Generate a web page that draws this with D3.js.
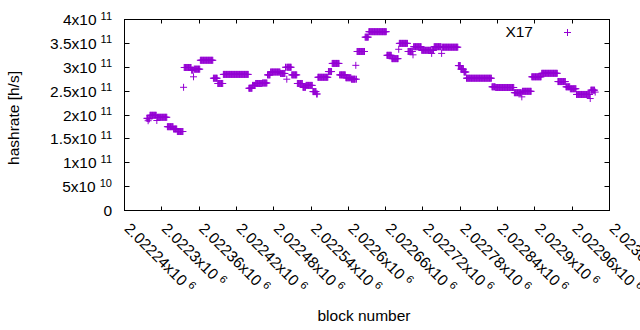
<!DOCTYPE html>
<html>
<head>
<meta charset="utf-8">
<script src="https://cdn.jsdelivr.net/npm/d3@7"></script>
<style>
  body { margin: 0; background: #fff; }
  svg text { font-family: "Liberation Sans", Arial, sans-serif; fill: #000; }
</style>
</head>
<body>
<div id="chart"></div>
<script>
// runs of blocks with the same hashrate (start block, end block, h/s)
const runStart = [2022276, 2022278, 2022279, 2022281, 2022292, 2022293, 2022309, 2022319, 2022325, 2022335,
  2022336, 2022348, 2022351, 2022352, 2022362, 2022383, 2022390, 2022399, 2022440, 2022446,
  2022451, 2022462, 2022470, 2022475, 2022491, 2022499, 2022501, 2022502, 2022509, 2022518,
  2022527, 2022532, 2022543, 2022549, 2022551, 2022568, 2022574, 2022586, 2022596, 2022605,
  2022612, 2022613, 2022614, 2022627, 2022633, 2022662, 2022670, 2022681, 2022682, 2022696,
  2022704, 2022705, 2022718, 2022734, 2022735, 2022738, 2022750, 2022751, 2022777, 2022781,
  2022786, 2022790, 2022831, 2022837, 2022867, 2022879, 2022880, 2022895, 2022911, 2022937,
  2022950, 2022957, 2022967, 2022989, 2022990, 2022997];
const runEnd = [2022277, 2022278, 2022280, 2022291, 2022292, 2022308, 2022318, 2022324, 2022334, 2022335,
  2022347, 2022350, 2022351, 2022361, 2022382, 2022389, 2022398, 2022439, 2022445, 2022450,
  2022461, 2022469, 2022474, 2022490, 2022498, 2022500, 2022501, 2022508, 2022517, 2022526,
  2022531, 2022542, 2022548, 2022550, 2022567, 2022573, 2022585, 2022595, 2022604, 2022611,
  2022612, 2022613, 2022626, 2022632, 2022661, 2022669, 2022680, 2022681, 2022695, 2022703,
  2022704, 2022717, 2022733, 2022734, 2022737, 2022749, 2022750, 2022776, 2022780, 2022785,
  2022789, 2022830, 2022836, 2022866, 2022878, 2022879, 2022894, 2022910, 2022936, 2022949,
  2022956, 2022966, 2022988, 2022989, 2022996, 2022997];
const runRate = [1.93e11, 1.88e11, 1.92e11, 1.994e11, 1.885e11, 1.952e11, 1.755e11, 1.707e11, 1.654e11, 2.58e11,
  2.995e11, 2.94e11, 2.80e11, 2.96e11, 3.146e11, 2.77e11, 2.66e11, 2.85e11, 2.56e11, 2.62e11,
  2.66e11, 2.67e11, 2.84e11, 2.90e11, 2.87e11, 3.0e11, 2.75e11, 3.0e11, 2.84e11, 2.66e11,
  2.58e11, 2.62e11, 2.49e11, 2.44e11, 2.79e11, 2.91e11, 3.08e11, 2.84e11, 2.78e11, 2.75e11,
  3.04e11, 2.75e11, 3.33e11, 3.63e11, 3.745e11, 3.25e11, 3.18e11, 3.376e11, 3.50e11, 3.33e11,
  3.26e11, 3.43e11, 3.355e11, 3.29e11, 3.355e11, 3.43e11, 3.29e11, 3.42e11, 3.035e11, 2.96e11,
  2.90e11, 2.77e11, 2.59e11, 2.576e11, 2.467e11, 2.38e11, 2.496e11, 2.80e11, 2.873e11, 2.70e11,
  2.59e11, 2.55e11, 2.43e11, 2.345e11, 2.52e11, 2.48e11];

const xTicks = [2022240, 2022300, 2022360, 2022420, 2022480, 2022540, 2022600,
  2022660, 2022720, 2022780, 2022840, 2022900, 2022960, 2023020];
const xTickLabels = ["2.02224x10^6", "2.0223x10^6", "2.02236x10^6", "2.02242x10^6", "2.02248x10^6",
  "2.02254x10^6", "2.0226x10^6", "2.02266x10^6", "2.02272x10^6", "2.02278x10^6",
  "2.02284x10^6", "2.0229x10^6", "2.02296x10^6", "2.0230x10^6"];
const yTicks = [0, 5e10, 1e11, 1.5e11, 2e11, 2.5e11, 3e11, 3.5e11, 4e11];
const yTickLabels = ["0", "5x10^10", "1x10^11", "1.5x10^11", "2x10^11", "2.5x10^11",
  "3x10^11", "3.5x10^11", "4x10^11"];

const seriesName = "X17";
const color = "#9400d3";

let width = 640, height = 330;
let margin = { left: 124.5, right: 30.5, top: 19.5, bottom: 119.5 };
const fontSize = 15.5;
const supSize = 11;

let svg = d3.select("#chart").append("svg")
  .attr("width", width)
  .attr("height", height);

let x = d3.scaleLinear()
  .domain([2022240, 2023020])
  .range([margin.left, width - margin.right]);
let y = d3.scaleLinear()
  .domain([0, 4e11])
  .range([height - margin.bottom, margin.top]);

// write "a^b" as text with a superscript
let sup_text = (sel, label) => {
  let parts = label.split("^");
  sel.text(null);
  sel.append("tspan").text(parts[0]);
  if (parts.length > 1) {
    sel.append("tspan")
      .attr("dx", 4)
      .attr("dy", -5.5)
      .style("font-size", supSize + "px")
      .text(parts[1]);
  }
};

// frame
svg.append("rect")
  .attr("x", x.range()[0]).attr("y", y.range()[1])
  .attr("width", x.range()[1] - x.range()[0])
  .attr("height", y.range()[0] - y.range()[1])
  .attr("fill", "none").attr("stroke", "#000").attr("stroke-width", 1);

// ticks on all four sides, pointing inward
let ticks = svg.append("g").attr("stroke", "#000").attr("stroke-width", 1);
yTicks.forEach((v) => {
  let yy = Math.round(y(v) - 0.5) + 0.5;
  ticks.append("line").attr("x1", x.range()[0]).attr("x2", x.range()[0] + 5).attr("y1", yy).attr("y2", yy);
  ticks.append("line").attr("x1", x.range()[1]).attr("x2", x.range()[1] - 5).attr("y1", yy).attr("y2", yy);
});
xTicks.forEach((v) => {
  let xx = Math.round(x(v) - 0.5) + 0.5;
  ticks.append("line").attr("x1", xx).attr("x2", xx).attr("y1", y.range()[0]).attr("y2", y.range()[0] - 4);
  ticks.append("line").attr("x1", xx).attr("x2", xx).attr("y1", y.range()[1]).attr("y2", y.range()[1] + 4);
});

// y tick labels
svg.append("g").selectAll("text")
  .data(yTicks)
  .enter().append("text")
  .attr("x", 112)
  .attr("y", (d) => y(d) + 5.5)
  .attr("text-anchor", "end")
  .style("font-size", fontSize + "px")
  .each(function (d, i) { sup_text(d3.select(this), yTickLabels[i]); });

// x tick labels, rotated
svg.append("g").selectAll("text")
  .data(xTicks)
  .enter().append("text")
  .attr("transform", (d) => `translate(${x(d) - 1},${y.range()[0] + 19}) rotate(45)`)
  .attr("text-anchor", "start")
  .style("font-size", fontSize + "px")
  .each(function (d, i) { sup_text(d3.select(this), xTickLabels[i]); });

// axis titles
svg.append("text")
  .attr("transform", "translate(19,118) rotate(-90)")
  .attr("text-anchor", "middle")
  .style("font-size", fontSize + "px")
  .text("hashrate [h/s]");
svg.append("text")
  .attr("x", 364).attr("y", 321)
  .attr("text-anchor", "middle")
  .style("font-size", fontSize + "px")
  .text("block number");

// points
let points = [];
runStart.forEach((s, i) => {
  for (let b = s; b <= runEnd[i]; b++) points.push({ block: b, rate: runRate[i] });
});

const plus = "M-3.5,0H3.5M0,-3.5V3.5";
svg.append("g")
  .attr("fill", "none").attr("stroke", color).attr("stroke-width", 1)
  .selectAll("path")
  .data(points)
  .enter().append("path")
  .attr("d", plus)
  .attr("transform", (d) => `translate(${x(d.block)},${y(d.rate)})`);

// legend
svg.append("text")
  .attr("x", 533).attr("y", 37.3)
  .attr("text-anchor", "end")
  .style("font-size", fontSize + "px")
  .text(seriesName);
svg.append("path")
  .attr("d", plus)
  .attr("fill", "none").attr("stroke", color).attr("stroke-width", 1)
  .attr("transform", "translate(567.5,32.5)");
</script>
</body>
</html>
